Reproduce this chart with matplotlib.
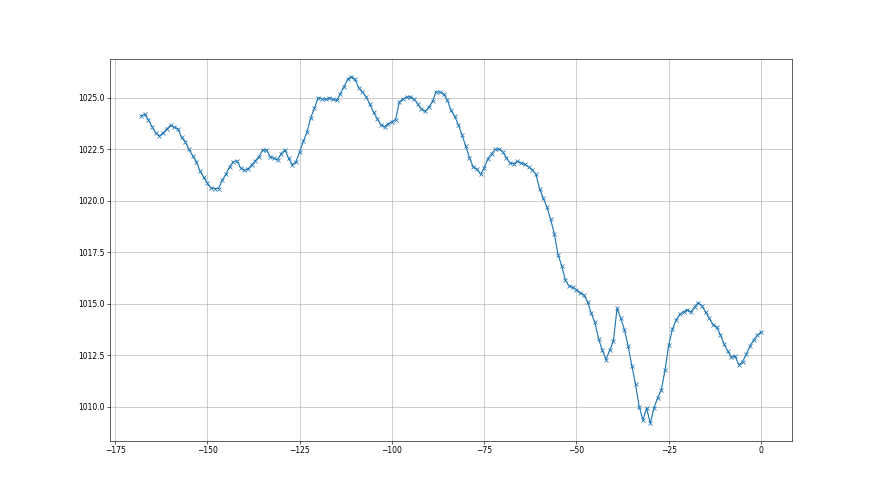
import numpy as np
from matplotlib import pyplot as plt

# hours before now
hours = list(range(-168, 1))

# pressure, hPa
pressure = [
    1024.13, 1024.20, 1023.93, 1023.60, 1023.30, 1023.15, 1023.30, 1023.50, 1023.68, 1023.58,  # -168..-159
    1023.50, 1023.08, 1022.88, 1022.50, 1022.20, 1021.90, 1021.45, 1021.15, 1020.85, 1020.63,  # -158..-149
    1020.60, 1020.60, 1021.00, 1021.30, 1021.65, 1021.90, 1021.95, 1021.60, 1021.50, 1021.55,  # -148..-139
    1021.75, 1021.95, 1022.15, 1022.48, 1022.48, 1022.15, 1022.08, 1022.00, 1022.30, 1022.48,  # -138..-129
    1022.07, 1021.75, 1021.90, 1022.40, 1022.90, 1023.35, 1024.05, 1024.50, 1025.00, 1024.97,  # -128..-119
    1024.93, 1025.00, 1024.93, 1024.88, 1025.20, 1025.55, 1025.90, 1026.03, 1025.90, 1025.50,  # -118..-109
    1025.30, 1025.05, 1024.70, 1024.30, 1024.00, 1023.70, 1023.60, 1023.75, 1023.85, 1023.95,  # -108..-99
    1024.80, 1024.95, 1025.05, 1025.05, 1024.95, 1024.70, 1024.45, 1024.35, 1024.55, 1024.85,  # -98..-89
    1025.30, 1025.28, 1025.20, 1024.90, 1024.40, 1024.10, 1023.70, 1023.20, 1022.65, 1022.10,  # -88..-79
    1021.65, 1021.55, 1021.30, 1021.60, 1022.05, 1022.30, 1022.50, 1022.52, 1022.40, 1022.10,  # -78..-69
    1021.85, 1021.80, 1021.92, 1021.85, 1021.77, 1021.65, 1021.52, 1021.30, 1020.60, 1020.13,  # -68..-59
    1019.70, 1019.10, 1018.40, 1017.40, 1016.85, 1016.15, 1015.87, 1015.80, 1015.68, 1015.55,  # -58..-49
    1015.44, 1015.10, 1014.55, 1014.10, 1013.30, 1012.75, 1012.30, 1012.75, 1013.20, 1014.79,  # -48..-39
    1014.30, 1013.75, 1012.95, 1012.00, 1011.10, 1010.01, 1009.37, 1009.94, 1009.21, 1009.94,  # -38..-29
    1010.45, 1010.83, 1011.80, 1013.00, 1013.77, 1014.22, 1014.50, 1014.62, 1014.72, 1014.60,  # -28..-19
    1014.87, 1015.06, 1014.90, 1014.60, 1014.30, 1014.00, 1013.88, 1013.50, 1013.05, 1012.70,  # -18..-9
    1012.42, 1012.46, 1012.04, 1012.20, 1012.55, 1012.95, 1013.25, 1013.48, 1013.64,           # -8..0
]

fig = plt.figure(figsize=(16, 9), dpi=55)
ax = fig.add_subplot(111)
ax.plot(hours, pressure, marker='x')
ax.grid(True)

plt.savefig('out.png', dpi=55)
